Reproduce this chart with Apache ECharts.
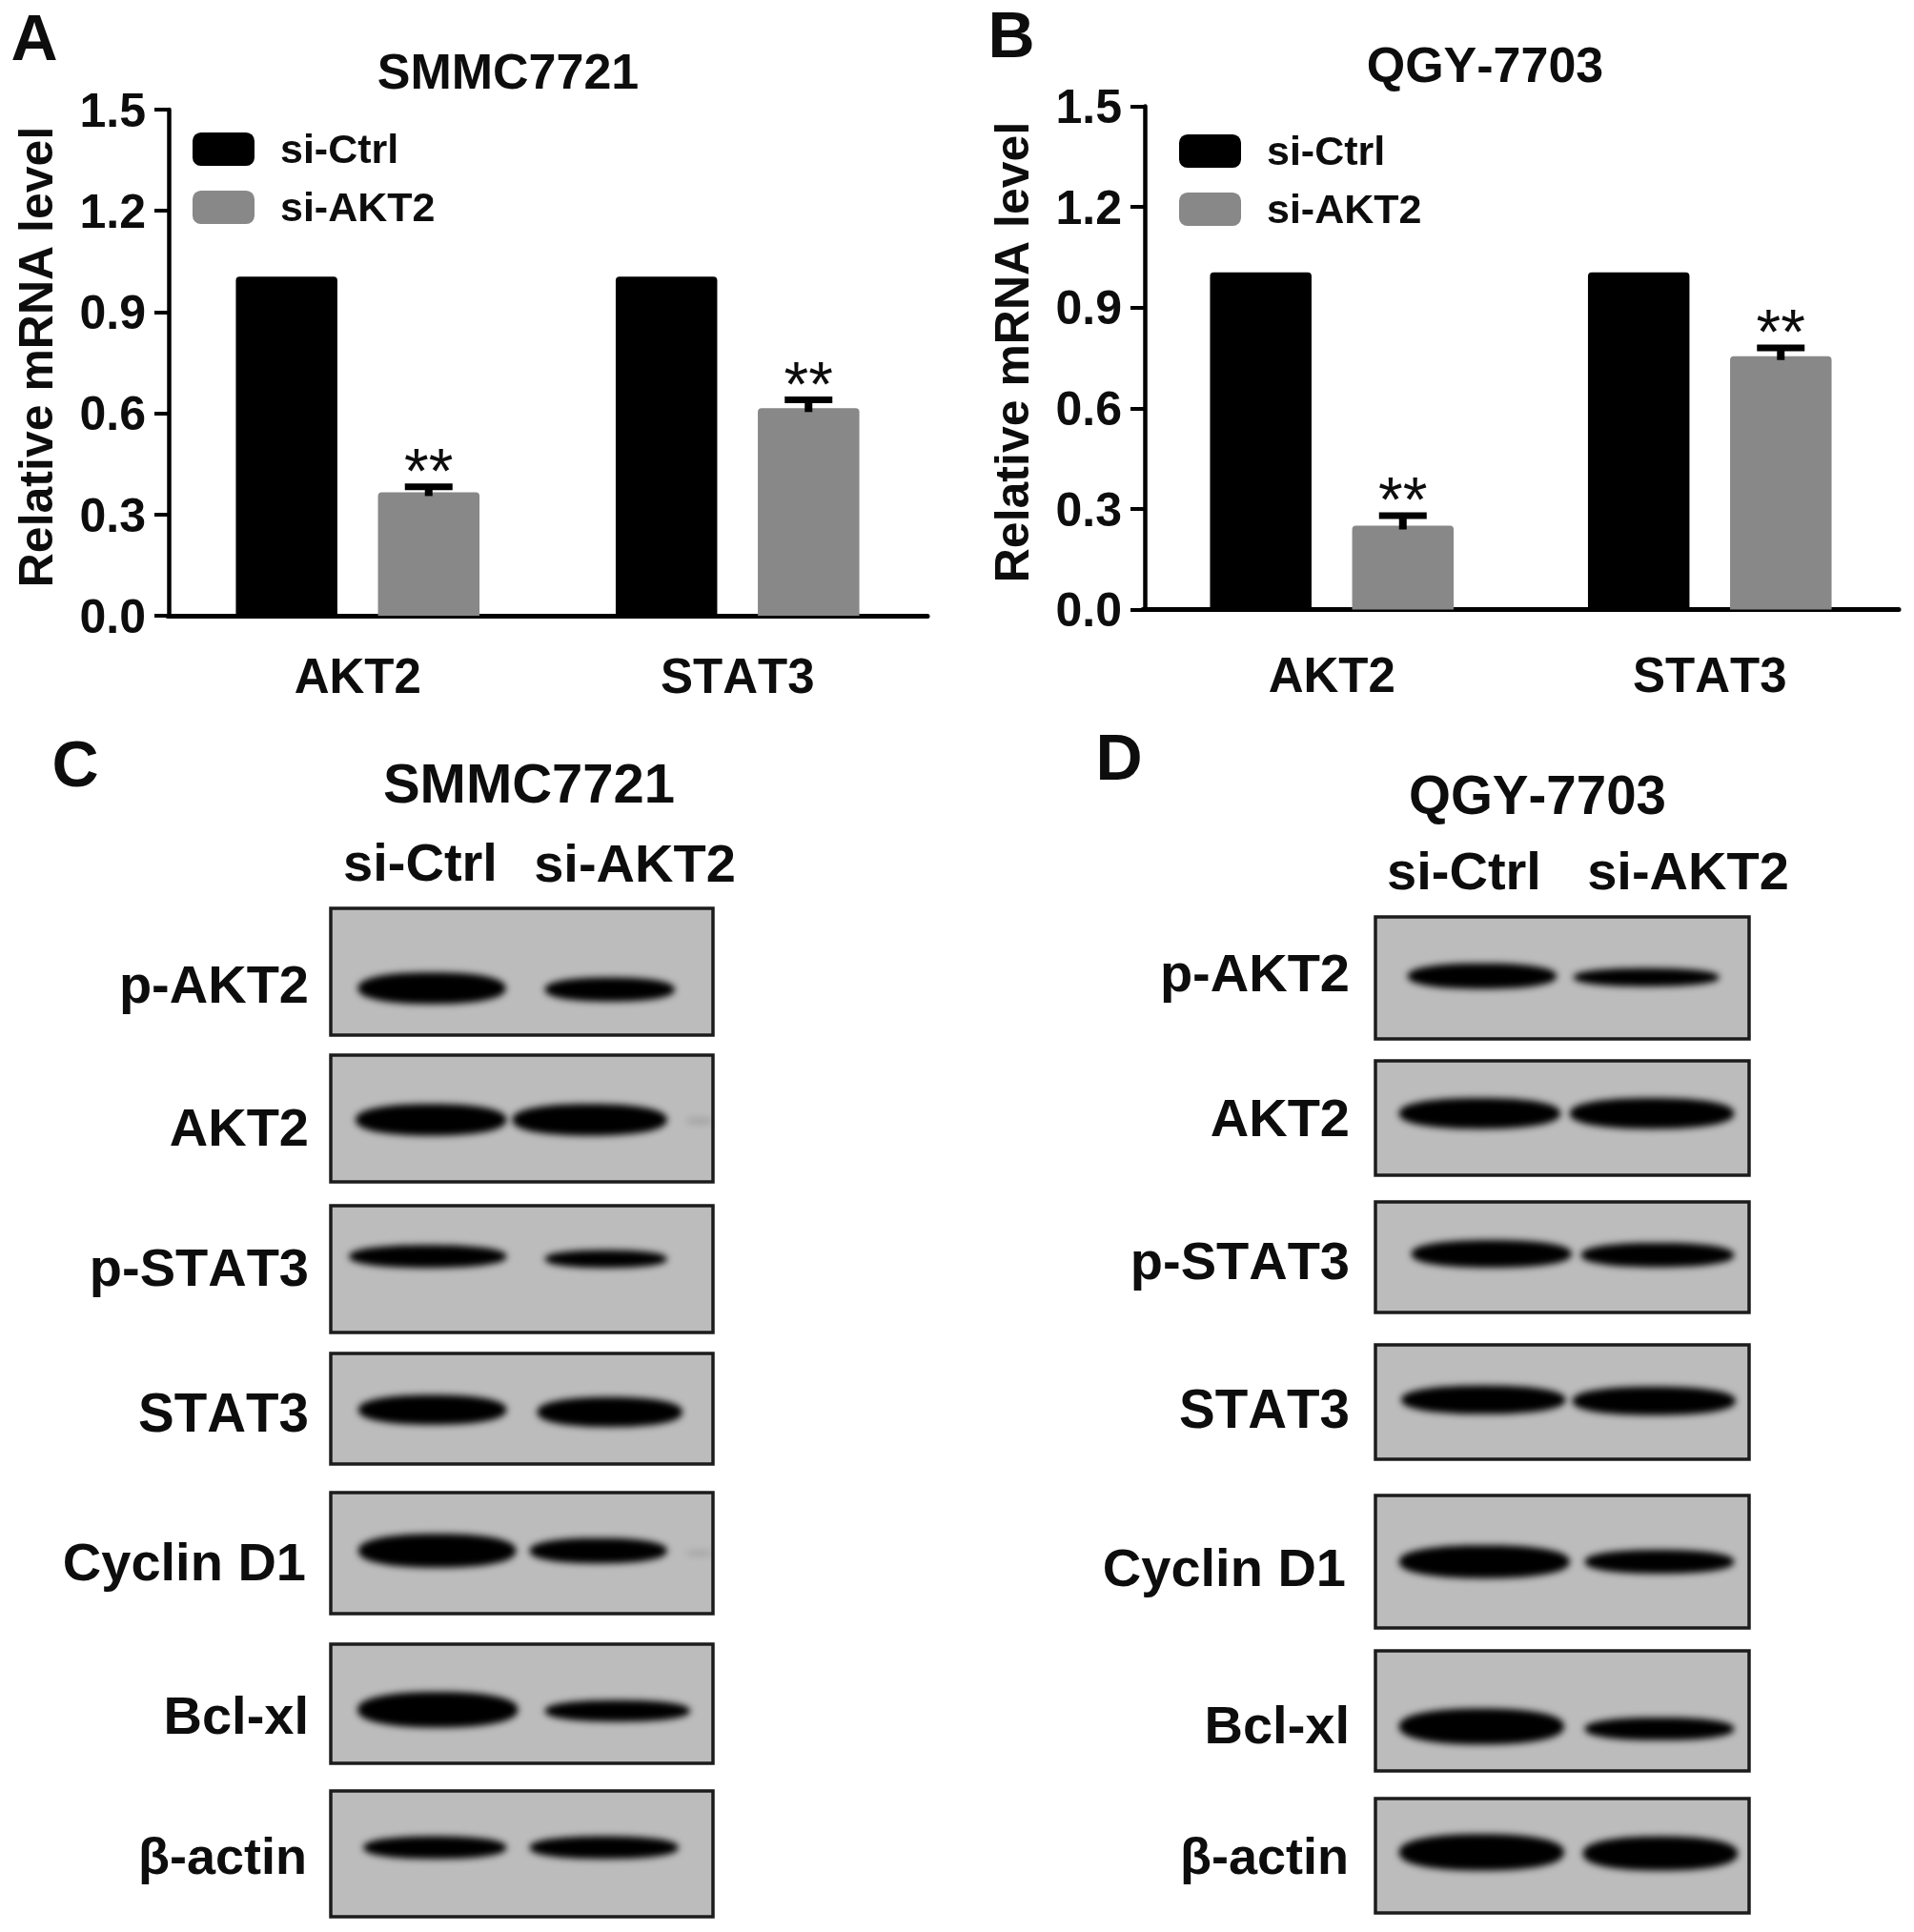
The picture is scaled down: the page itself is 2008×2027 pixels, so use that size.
<!DOCTYPE html>
<html><head><meta charset="utf-8">
<style>html,body{margin:0;padding:0;background:#fff}#c{width:2008px;height:2027px}</style>
<script src="https://cdn.jsdelivr.net/npm/echarts@6/dist/echarts.min.js"></script>
</head><body><div id="c"></div>
<script>
// ---- qPCR data ----
const categories = ['AKT2', 'STAT3'];
const legendNames = ['si-Ctrl', 'si-AKT2'];
const yTicks = { min: 0, max: 1.5, interval: 0.3 };
const ctrlA = [1.005, 1.005];
const aktA = [0.366, 0.615];
const errA = [0.016, 0.025];
const ctrlB = [1.005, 1.005];
const aktB = [0.25, 0.755];
const errB = [0.03, 0.025];
const marks = ['**', '**'];
// ---- western blot lane labels ----
const blotLabels = ['p-AKT2', 'AKT2', 'p-STAT3', 'STAT3', 'Cyclin D1', 'Bcl-xl', '\u03b2-actin'];
// bands on each membrane, in % of its width / height: [from, to, centre, thickness, density]
const bandsC = [
  [[7.1, 45.8, 63, 25, 1], [56, 90, 64, 19, 1]],
  [[6.5, 46, 51, 25, 1], [47.5, 88, 51, 25, 1], [93, 100, 52, 6, 0.12]],
  [[4.8, 46, 40, 18, 1], [56, 88, 42, 14, 1]],
  [[7.2, 46, 51, 27, 1], [54, 92, 53, 27, 1]],
  [[7.2, 48.5, 48, 28, 1], [52, 88, 48, 21, 1], [93, 100, 50, 6, 0.1]],
  [[7, 49, 55, 30, 1], [56, 94, 56, 18, 1]],
  [[8.5, 46, 45, 18, 1], [52, 91, 45, 18, 1]]
];
const bandsD = [
  [[8.6, 48.5, 48.5, 21, 1], [53, 92, 49.5, 15, 1]],
  [[6.3, 49.5, 46, 27, 1], [52, 96, 46, 27, 1]],
  [[9.6, 52.5, 47, 25, 1], [55, 96, 48, 22, 1]],
  [[6.9, 50.9, 48, 25, 1], [52.7, 96.4, 49, 25, 1]],
  [[6.3, 52, 50, 25, 1], [56, 96, 50, 18, 1]],
  [[6.3, 50.5, 63, 30, 1], [56, 96, 65, 19, 1]],
  [[6.3, 50.5, 47, 32, 1], [55.5, 97, 48, 30, 1]]
];
// ---- layout (pixels) ----
const FONT = '"Liberation Sans", Arial, sans-serif';
const INK = '#0d0d0d';
const framesC = { x0: 347, x1: 748, rows: [[953, 1086], [1107, 1240], [1265, 1398], [1420, 1536], [1566, 1693], [1725, 1850], [1879, 2011]] };
const framesD = { x0: 1443, x1: 1835, rows: [[962, 1090], [1113, 1233], [1261, 1377], [1411, 1531], [1569, 1708], [1732, 1858], [1887, 2007]] };
const labelYC = [1037, 1187, 1334, 1486, 1643, 1804, 1951];
const labelYD = [1025, 1177, 1327, 1482, 1649, 1814, 1951];
const labelXC = [324, 324, 324, 324, 321, 324, 322];
const labelXD = [1416, 1416, 1416, 1416, 1412, 1416, 1415];
const labelSize = [56, 56, 56, 56.5, 56, 56, 54];
const BAR_W = 106.5, BAR_OFFSET = 74.5, OFF = 3000, EDGE = 2.3;

// the reference's text is set without pair kerning
const origGetContext = HTMLCanvasElement.prototype.getContext;
HTMLCanvasElement.prototype.getContext = function () {
  const ctx = origGetContext.apply(this, arguments);
  if (ctx && 'fontKerning' in ctx) ctx.fontKerning = 'none';
  return ctx;
};

const chart = echarts.init(document.getElementById('c'), null, { renderer: 'canvas' });
const grid = [], xAxis = [], yAxis = [], series = [], title = [], legend = [];

function text(t, x, y, size, align, weight) {
  title.push({ text: t, left: x, top: y, padding: 0, textAlign: align || 'center', textVerticalAlign: 'middle',
    textStyle: { fontFamily: FONT, fontSize: size, fontWeight: weight || 'bold', color: INK } });
}

function barPanel(cfg) {
  const i = grid.length;
  grid.push({ left: cfg.left, top: cfg.top, width: cfg.width, height: cfg.height, containLabel: false, outerBoundsMode: 'none' });
  xAxis.push({ type: 'category', gridIndex: i, data: categories,
    axisLine: { lineStyle: { color: '#000', width: 5 } },
    axisTick: { alignWithLabel: true, length: 15, lineStyle: { color: '#000', width: 4 } },
    axisLabel: { margin: cfg.xMargin, fontFamily: FONT, fontSize: 51, fontWeight: 'bold', color: INK, interval: 0 } });
  yAxis.push({ type: 'value', gridIndex: i, min: yTicks.min, max: yTicks.max, interval: yTicks.interval, offset: cfg.axisOffset,
    name: 'Relative mRNA level', nameLocation: 'middle', nameGap: cfg.nameGap,
    nameTextStyle: { fontFamily: FONT, fontSize: 50, fontWeight: 'bold', color: INK, padding: [0, 0, 0, 12] },
    axisLine: { show: true, lineStyle: { color: '#000', width: 4.5 } },
    axisTick: { show: true, length: 15, lineStyle: { color: '#000', width: 4 } },
    splitLine: { show: false },
    axisLabel: { margin: 24, formatter: v => '{t|' + v.toFixed(1) + '}',
      rich: { t: { fontFamily: FONT, fontSize: 50, fontWeight: 'bold', color: INK, lineHeight: 58, verticalAlign: 'bottom' } } } });
  const common = { type: 'bar', xAxisIndex: i, yAxisIndex: i, barWidth: BAR_W, barGap: '40%', animation: false };
  series.push(Object.assign({ name: legendNames[0], data: cfg.ctrl, itemStyle: { color: '#000', borderRadius: [4, 4, 0, 0] } }, common));
  series.push(Object.assign({ name: legendNames[1], data: cfg.akt, itemStyle: { color: '#888888', borderRadius: [4, 4, 0, 0] } }, common));
  series.push({ type: 'custom', name: 'error', xAxisIndex: i, yAxisIndex: i, animation: false, z: 5,
    data: cfg.akt.map((v, k) => [k, v, cfg.err[k], marks[k]]),
    encode: { x: 0, y: 1 },
    renderItem: (params, api) => {
      const c = api.coord([api.value(0), api.value(1)]);
      const top = api.coord([api.value(0), api.value(1) + api.value(2)]);
      const x = c[0] + BAR_OFFSET;
      return { type: 'group', children: [
        { type: 'rect', shape: { x: x - 4, y: top[1], width: 8, height: c[1] - top[1] + 4 }, style: { fill: '#000' } },
        { type: 'rect', shape: { x: x - 25, y: top[1] - 3.5, width: 50, height: 7 }, style: { fill: '#000' } },
        { type: 'text', style: { text: marks[params.dataIndex], x: x, y: top[1] + 21, align: 'center', verticalAlign: 'bottom',
            fontFamily: FONT, fontSize: 66, fill: INK, lineHeight: 66 } , silent: true}
      ] };
    } });
  legend.push({ data: legendNames, orient: 'vertical', left: cfg.legendLeft, top: cfg.legendTop, padding: 0,
    itemWidth: 65, itemHeight: 35, itemGap: 18, icon: 'roundRect', selectedMode: false,
    formatter: n => '{t|' + n + '}',
    textStyle: { padding: [0, 0, 0, 22],
      rich: { t: { fontFamily: FONT, fontSize: 43, fontWeight: 'bold', color: INK, lineHeight: 49, verticalAlign: 'bottom' } } } });
}

function blotPanel(frames, bands, labelY, labelX) {
  frames.rows.forEach((r, k) => {
    const i = grid.length;
    grid.push({ left: frames.x0, top: r[0], width: frames.x1 - frames.x0, height: r[1] - r[0], show: true, outerBoundsMode: 'none',
      backgroundColor: '#bcbcbc', borderColor: '#1c1c1c', borderWidth: 3.5, z: 1 });
    xAxis.push({ type: 'value', gridIndex: i, min: 0, max: 100, show: false });
    yAxis.push({ type: 'value', gridIndex: i, min: 0, max: 100, inverse: true, show: false });
    series.push({ type: 'custom', name: blotLabels[k], xAxisIndex: i, yAxisIndex: i, animation: false, z: 3,
      data: bands[k], encode: { x: [0, 1], y: 2 },
      renderItem: (params, api) => {
        const a = api.coord([api.value(0), api.value(2)]);
        const b = api.coord([api.value(1), api.value(2)]);
        const h = api.size([0, api.value(3)])[1];
        const rx = (b[0] - a[0]) / 2, ry = h / 2, cx = (a[0] + b[0]) / 2 - OFF, cy = a[1];
        const points = [];
        for (let d = 0; d < 360; d += 5) {
          const t = d * Math.PI / 180, co = Math.cos(t), si = Math.sin(t);
          points.push([cx + rx * Math.sign(co) * Math.pow(Math.abs(co), 2 / EDGE), cy + ry * Math.sign(si) * Math.pow(Math.abs(si), 2 / EDGE)]);
        }
        // only the soft shadow of the band lands on the membrane: a developed film band has no hard edge
        return { type: 'polygon', shape: { points },
          style: { fill: '#000', shadowColor: 'rgba(0,0,0,' + api.value(4) + ')', shadowBlur: 7, shadowOffsetX: OFF } };
      } });
    text(blotLabels[k], labelX[k], labelY[k], labelSize[k], 'right');
  });
}

barPanel({ left: 176, top: 115, width: 797, height: 531, ctrl: ctrlA, akt: aktA, err: errA, axisOffset: -1, nameGap: 111, xMargin: 41, legendLeft: 202, legendTop: 138 });
barPanel({ left: 1199, top: 111.5, width: 793, height: 528, ctrl: ctrlB, akt: aktB, err: errB, axisOffset: -2, nameGap: 111, xMargin: 47, legendLeft: 1237, legendTop: 140 });
blotPanel(framesC, bandsC, labelYC, labelXC);
blotPanel(framesD, bandsD, labelYD, labelXD);

text('A', 36, 44, 68); text('B', 1061, 41, 68); text('C', 79, 806, 68); text('D', 1174, 799, 68);
text('SMMC7721', 533, 79, 52); text('QGY-7703', 1558, 72, 52);
text('SMMC7721', 555, 826, 58); text('QGY-7703', 1613, 838, 56.5);
text('si-Ctrl', 441, 909, 56); text('si-AKT2', 666, 910, 56);
text('si-Ctrl', 1536, 918, 56); text('si-AKT2', 1771, 918, 56);

chart.setOption({ animation: false, backgroundColor: '#fff', title, legend, grid, xAxis, yAxis, series, tooltip: { show: false } });
</script></body></html>
